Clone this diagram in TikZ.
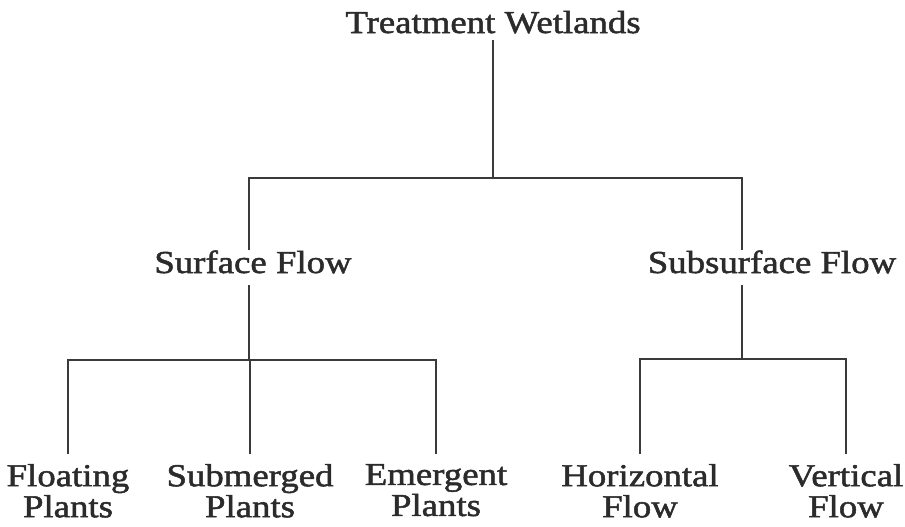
\documentclass[tikz,border=0pt]{standalone}
\usepackage{fontspec}
\setmainfont{Liberation Serif}[FakeStretch=1.15,FakeBold=1.6]
\usepackage{tikz}
\definecolor{ink}{HTML}{2B2B2B}
\definecolor{wire}{HTML}{3A3A3A}
\tikzset{
  lbl/.style={font=\fontsize{16}{15.5}\selectfont, text=ink, inner sep=0pt},
  top/.style={lbl, anchor=base, text depth=3.5pt},
  mid/.style={lbl, anchor=base, text depth=6pt},
  leaf/.style={lbl, anchor=north, align=center, outer ysep=5pt},
  link/.style={draw=wire, line width=1.2pt}
}

\begin{document}
\begin{tikzpicture}[x=0.5pt,y=-0.5pt]
  \useasboundingbox (0,0) rectangle (905,526);
  % labels
  \node[top] (tw) at (493,33) {Treatment Wetlands};
  \node[mid] (sf) at (253,273) {Surface Flow};
  \node[mid] (ssf) at (772,273) {Subsurface Flow};
  \foreach \name/\x/\txt in {fp/68/{Floating\\Plants},smp/250/{Submerged\\Plants},
      ep/436/{Emergent\\Plants},hf/640/{Horizontal\\Flow},vf/846/{Vertical\\Flow}}
    \node[leaf] (\name) at (\x,454) {\txt};
  % branch points
  \coordinate (twbus) at (493,178);
  \coordinate (sfbus) at (249,360);
  \coordinate (ssfbus) at (742,359);
  % connectors
  \draw[link] (tw.south) -- (twbus);
  \draw[link] (sf.north -| sfbus) |- (twbus) -| (ssf.north -| ssfbus);
  \draw[link] (sf.south -| sfbus) -- (sfbus);
  \draw[link] (ssf.south -| ssfbus) -- (ssfbus);
  \foreach \name in {fp,smp,ep}
    \draw[link] (\name.north) |- (sfbus);
  \foreach \name in {hf,vf}
    \draw[link] (\name.north) |- (ssfbus);
\end{tikzpicture}
\end{document}
